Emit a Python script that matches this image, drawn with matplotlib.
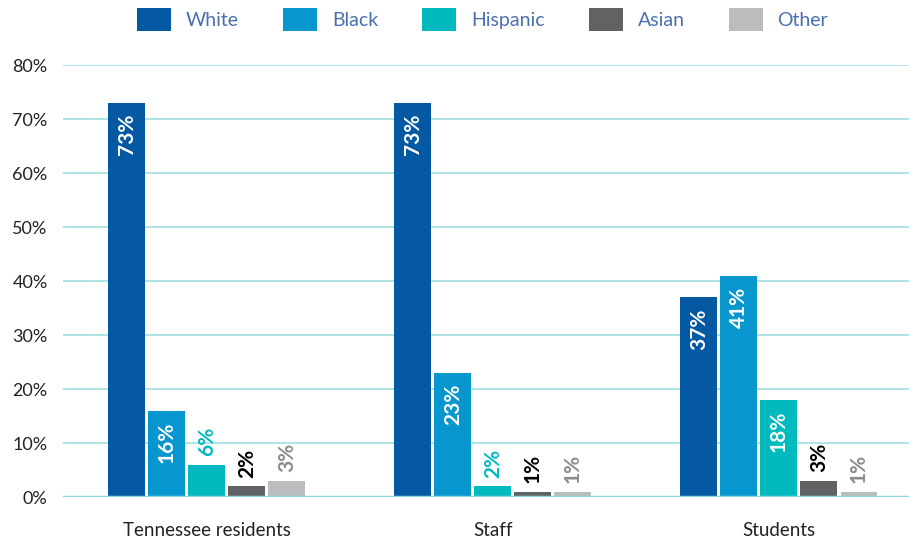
import numpy as np
import matplotlib.pyplot as plt
from matplotlib.patches import Patch

plt.rcParams['font.family'] = ['Lato', 'DejaVu Sans']

groups = ["Tennessee residents", "Staff", "Students"]
races = ["White", "Black", "Hispanic", "Asian", "Other"]
values = {
    "White": [73, 73, 37],
    "Black": [16, 23, 41],
    "Hispanic": [6, 2, 18],
    "Asian": [2, 1, 3],
    "Other": [3, 1, 1],
}
colors = ["#0559A3", "#0896CF", "#00BAC0", "#616264", "#BBBCBE"]
# label colour when the number sits above a short bar
out_colors = ["#0559A3", "#0896CF", "#00BAC0", "#000000", "#8C8C8C"]

fig = plt.figure(figsize=(9.09, 5.39), dpi=100)
ax = fig.add_axes([0.0693, 0.0779, 0.9307, 0.8015])

x = np.arange(len(groups))
step = 0.14
width = 0.129

for j, race in enumerate(races):
    pos = x + (j - 2) * step
    vals = values[race]
    ax.bar(pos, vals, width=width, color=colors[j], zorder=3)
    for px, v in zip(pos, vals):
        if v >= 10:
            ax.annotate(f"{v}%", (px, v), xytext=(0, -8), textcoords="offset points",
                        rotation=90, ha="center", va="top", color="white",
                        fontsize=15, fontweight="bold", zorder=4)
        else:
            ax.annotate(f"{v}%", (px, v), xytext=(0, 6), textcoords="offset points",
                        rotation=90, ha="center", va="bottom", color=out_colors[j],
                        fontsize=15, fontweight="bold", zorder=4)

ax.set_ylim(0, 80)
ax.set_xlim(-0.503, 2.455)
ax.set_yticks(range(0, 81, 10))
ax.set_yticklabels([f"{t}%" for t in range(0, 81, 10)])
ax.set_xticks(x)
ax.set_xticklabels(groups, fontsize=13.5)
ax.tick_params(axis="both", length=0, colors="#222222")
ax.tick_params(axis="y", labelsize=13, pad=11)
ax.tick_params(axis="x", pad=18)

ax.grid(axis="y", color="#A8E0E4", linewidth=1.3, zorder=0)
ax.axhline(0, color="#8FD9DE", linewidth=2.5, zorder=5)
for s in ax.spines.values():
    s.set_visible(False)

handles = [Patch(facecolor=c, edgecolor="none") for c in colors]
leg = fig.legend(handles, races, loc="center left", bbox_to_anchor=(0.151, 0.964), ncol=5,
                 frameon=False, fontsize=14, handlelength=1.75, handleheight=1.4,
                 handletextpad=0.75, columnspacing=2.28, borderaxespad=0, borderpad=0)
for t in leg.get_texts():
    t.set_color("#4A6FB0")

fig.savefig("out.png", dpi=100)
